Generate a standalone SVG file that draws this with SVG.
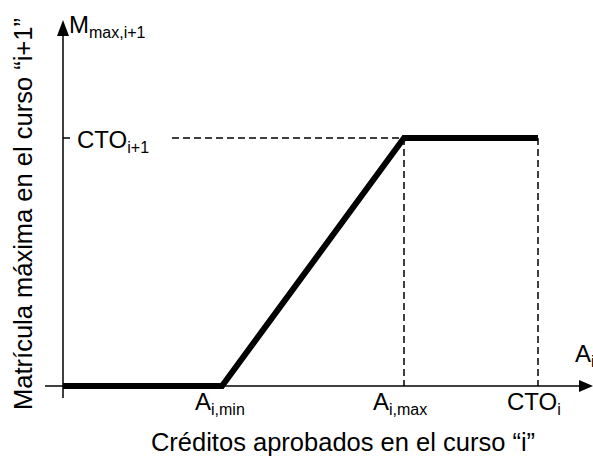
<svg xmlns="http://www.w3.org/2000/svg" width="593" height="457" viewBox="0 0 593 457">
<style>
.lbl{font-family:"Liberation Sans",Arial,sans-serif;font-size:24px;fill:#000}
.big{font-size:25.5px}
.sub{font-size:16px}
.axis{stroke:#000;stroke-width:1.5;fill:none}
.dash{stroke:#000;stroke-width:1.5;stroke-dasharray:7,4;fill:none}
.curve{stroke:#000;stroke-width:6;fill:none;stroke-linejoin:miter;stroke-linecap:butt}
</style>
<rect width="593" height="457" fill="#fff"/>
<g id="connectors">
<line class="axis" x1="63" y1="398" x2="63" y2="34"/>
<polygon points="63,20 57,36 69,36" fill="#000"/>
<line class="axis" x1="45" y1="386" x2="583" y2="386"/>
<polygon points="593,386 579,380 579,392" fill="#000"/>
<line class="dash" x1="63" y1="138" x2="70" y2="138"/>
<line class="dash" x1="172" y1="138" x2="404" y2="138"/>
<line class="dash" x1="404" y1="138" x2="404" y2="386"/>
<line class="dash" x1="538" y1="138" x2="538" y2="386"/>
<polyline class="curve" points="63,386 222,386 404,138 538,138"/>
</g>
<g id="y-label"><text class="lbl big" transform="translate(32,214) rotate(-90)" text-anchor="middle">Matrícula máxima en el curso “i+1”</text></g>
<g id="x-label"><text class="lbl big" x="343" y="451" text-anchor="middle">Créditos aprobados en el curso “i”</text></g>
<g id="m-max"><text class="lbl" x="69" y="33">M<tspan class="sub" dy="5">max,i+1</tspan></text></g>
<g id="cto-i1"><text class="lbl" x="77" y="148">CTO<tspan class="sub" dy="5">i+1</tspan></text></g>
<g id="a-min"><text class="lbl" x="195" y="410">A<tspan class="sub" dy="5">i,min</tspan></text></g>
<g id="a-max"><text class="lbl" x="373" y="410">A<tspan class="sub" dy="5">i,max</tspan></text></g>
<g id="cto-i"><text class="lbl" x="507" y="410">CTO<tspan class="sub" dy="5">i</tspan></text></g>
<g id="a-i"><text class="lbl" x="575" y="362">A<tspan class="sub" dy="5">i</tspan></text></g>
</svg>
